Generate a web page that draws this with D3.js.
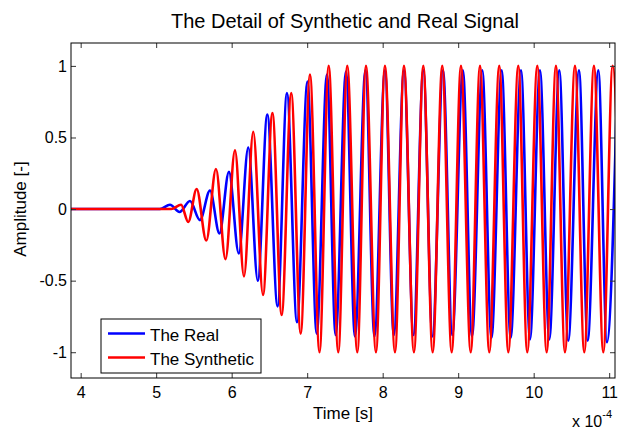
<!DOCTYPE html>
<html>
<head>
<meta charset="utf-8">
<script src="https://cdn.jsdelivr.net/npm/d3@7"></script>
<style>
  body { margin: 0; background: #fff; }
  text { font-family: Arial, "Liberation Sans", sans-serif; fill: #000; }
</style>
</head>
<body>
<div id="chart"></div>
<script>
// time values in units of 1e-4 s (axis shows "x 10^-4")
var realT = [3.872, 5.05, 5.183, 5.31, 5.448, 5.580, 5.713, 5.838, 5.964, 6.094, 6.220, 6.346,
  6.472, 6.608, 6.732, 6.865, 7.004, 7.126, 7.262, 7.377, 7.514, 7.633, 7.772, 7.891,
  8.030, 8.147, 8.282, 8.408, 8.538, 8.660, 8.799, 8.922, 9.062, 9.183, 9.319, 9.441,
  9.576, 9.695, 9.832, 9.951, 10.083, 10.207, 10.339, 10.458, 10.600, 10.715, 10.856,
  10.970, 11.111];
var realV = [0, 0, 0.03, -0.02, 0.056, -0.077, 0.13, -0.17, 0.26, -0.31, 0.43, -0.50,
  0.66, -0.68, 0.81, -0.79, 0.89, -0.87, 0.94, -0.88, 0.96, -0.89, 0.97, -0.89,
  0.97, -0.88, 0.97, -0.88, 0.97, -0.89, 0.97, -0.88, 0.97, -0.89, 0.97, -0.90,
  0.97, -0.90, 0.97, -0.91, 0.97, -0.91, 0.97, -0.92, 0.97, -0.92, 0.97,
  -0.93, 0.97];

var synT = [3.872, 5.20, 5.33, 5.425, 5.536, 5.664, 5.792, 5.918, 6.044, 6.163, 6.286, 6.415,
  6.540, 6.662, 6.789, 6.914, 7.037, 7.163, 7.285, 7.412, 7.531, 7.664, 7.779, 7.911,
  8.030, 8.163, 8.282, 8.414, 8.538, 8.662, 8.789, 8.914, 9.037, 9.166, 9.289, 9.412,
  9.544, 9.664, 9.796, 9.915, 10.048, 10.172, 10.295, 10.414, 10.547, 10.670, 10.798,
  10.922, 11.046, 11.17];
var synV = [0, 0, 0.03, -0.09, 0.14, -0.22, 0.28, -0.35, 0.41, -0.47, 0.54, -0.60,
  0.67, -0.74, 0.81, -0.87, 0.94, -1.0, 1.0, -1.0, 1.0, -1.0, 1.0, -1.0,
  1.0, -1.0, 1.0, -1.0, 1.0, -1.0, 1.0, -1.0, 1.0, -1.0, 1.0, -1.0,
  1.0, -1.0, 1.0, -1.0, 1.0, -1.0, 1.0, -1.0, 1.0, -1.0, 1.0,
  -1.0, 1.0, -1.0];

var xTicks = [4, 5, 6, 7, 8, 9, 10, 11];
var yTicks = [-1, -0.5, 0, 0.5, 1];
var seriesNames = ["The Real", "The Synthetic"];
var seriesColors = ["#0000ff", "#ff0000"];

var margin = { top: 43, right: 7, bottom: 51, left: 71 },
    width = 622 - margin.left - margin.right,
    height = 429 - margin.top - margin.bottom;

var svg = d3.select("#chart")
    .append("svg")
    .attr("width", 622)
    .attr("height", 429);

var g = svg.append("g")
    .attr("transform", "translate(" + margin.left + "," + margin.top + ")");

var x = d3.scaleLinear().domain([3.872, 11.077]).range([0, width]);
var y = d3.scaleLinear().domain([-1.18, 1.16]).range([height, 0]);

// clip so the lines stop at the box
g.append("clipPath")
    .attr("id", "clip")
    .append("rect")
    .attr("width", width)
    .attr("height", height);

var line = d3.line()
    .x(function(d) { return x(d[0]); })
    .y(function(d) { return y(d[1]); })
    .curve(d3.curveMonotoneX);

var realData = realT.map(function(t, i) { return [t, realV[i]]; });
var synData = synT.map(function(t, i) { return [t, synV[i]]; });

var plot = g.append("g").attr("clip-path", "url(#clip)");

plot.append("path")
    .datum(realData)
    .attr("fill", "none")
    .attr("stroke", seriesColors[0])
    .attr("stroke-width", 2.6)
    .attr("d", line);

plot.append("path")
    .datum(synData)
    .attr("fill", "none")
    .attr("stroke", seriesColors[1])
    .attr("stroke-width", 2.6)
    .attr("d", line);

// axes, matlab style: ticks inside on all four sides
var tickLen = 5;
var plain = function(d) { return String(d); };   // keep the ascii hyphen like matlab
var axB = g.append("g")
    .attr("transform", "translate(0," + height + ")")
    .call(d3.axisBottom(x).tickValues(xTicks).tickSize(-tickLen).tickPadding(9).tickFormat(plain));
var axT = g.append("g")
    .call(d3.axisTop(x).tickValues(xTicks).tickSize(-tickLen).tickFormat(""));
var axL = g.append("g")
    .call(d3.axisLeft(y).tickValues(yTicks).tickSize(-tickLen).tickPadding(4).tickFormat(plain));
var axR = g.append("g")
    .attr("transform", "translate(" + width + ",0)")
    .call(d3.axisRight(y).tickValues(yTicks).tickSize(-tickLen).tickFormat(""));

[axB, axT, axL, axR].forEach(function(a) {
    a.select(".domain").remove();
    a.selectAll(".tick line").attr("stroke", "#333").attr("stroke-width", 1);
    a.selectAll("text").style("font-size", "16px").attr("fill", "#000");
});

g.append("rect")
    .attr("width", width)
    .attr("height", height)
    .attr("fill", "none")
    .attr("stroke", "#000")
    .attr("stroke-width", 1);

// labels
svg.append("text")
    .attr("x", margin.left + width / 2 + 2)
    .attr("y", 28)
    .attr("text-anchor", "middle")
    .style("font-size", "20px")
    .text("The Detail of Synthetic and Real Signal");

svg.append("text")
    .attr("x", margin.left + width / 2)
    .attr("y", 419)
    .attr("text-anchor", "middle")
    .style("font-size", "17px")
    .text("Time [s]");

svg.append("text")
    .attr("transform", "translate(26," + (margin.top + y(0)) + ") rotate(-90)")
    .attr("text-anchor", "middle")
    .style("font-size", "17px")
    .text("Amplitude [-]");

var expo = svg.append("text")
    .attr("x", 572)
    .attr("y", 427)
    .style("font-size", "16px");
expo.append("tspan").text("x 10");
expo.append("tspan").attr("dy", -9).style("font-size", "11px").text("-4");

// legend
var leg = svg.append("g").attr("transform", "translate(101,319)");
leg.append("rect")
    .attr("width", 160)
    .attr("height", 54)
    .attr("fill", "#fff")
    .attr("stroke", "#000")
    .attr("stroke-width", 1);

seriesNames.forEach(function(name, i) {
    leg.append("line")
        .attr("x1", 7).attr("x2", 44)
        .attr("y1", 14.5 + i * 24).attr("y2", 14.5 + i * 24)
        .attr("stroke", seriesColors[i])
        .attr("stroke-width", 2.6);
    leg.append("text")
        .attr("x", 49)
        .attr("y", 21.5 + i * 24)
        .style("font-size", "17px")
        .text(name);
});
</script>
</body>
</html>
